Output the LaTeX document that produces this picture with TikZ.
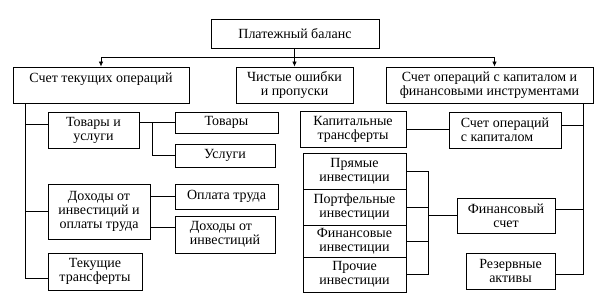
\documentclass[tikz,border=0pt]{standalone}
\usepackage{fontspec}
\setmainfont{Liberation Serif}
\usepackage{tikz}
\usetikzlibrary{positioning,arrows.meta,calc}
\tikzset{
  box/.style={draw,align=center,inner sep=1pt,font=\fontsize{14}{14}\selectfont},
  sz/.style 2 args={minimum width=#1pt,minimum height=#2pt},
  arr/.style={-{Latex[length=5pt,width=4.5pt]}},
}

\begin{document}
\begin{tikzpicture}[x=1pt,y=-1pt,line width=0.8pt]
\useasboundingbox (0,0) rectangle (610,302);
% top level
\node[box,sz={168}{29}] (bal) at (295,33.5) {Платежный баланс};
\node[box,sz={176}{36}] (cur) at (101,85) {Счет текущих операций\\~};
\node[box,sz={117}{36}] (err) at (294.5,85) {Чистые ошибки\\и пропуски};
\node[box,sz={207}{36}] (cap) at (489.5,85) {Счет операций с капиталом и\\финансовыми инструментами};
% current account
\node[box,sz={91}{36}] (gs) at (93.5,130) {Товары и\\услуги};
\node[box,sz={103}{21}] (goods) at (226.5,122.5) {Товары};
\node[box,sz={100}{23}] (serv) at (225,155.5) {Услуги};
\node[box,sz={102}{55}] (inc) at (99,211.5) {Доходы от\\инвестиций и\\оплаты труда};
\node[box,sz={103}{25}] (wage) at (226.5,196.5) {Оплата труда};
\node[box,sz={100}{37},align=left] (invinc) at (225,234.5) {Доходы от\\инвестиций};
\node[box,sz={94}{37}] (tr) at (95,271.5) {Текущие\\трансферты};
% capital and financial account
\node[box,sz={106}{36}] (captr) at (353,129) {Капитальные\\трансферты};
\node[box,sz={112}{36},align=left] (capacc) at (505,130) {Счет операций\\с капиталом};
\node[box,sz={103}{36}] (dir) at (354.5,171) {Прямые\\инвестиции};
\node[box,sz={103}{36}] (port) at (354.5,207) {Портфельные\\инвестиции};
\node[box,sz={103}{32}] (fin) at (354.5,241) {Финансовые\\инвестиции};
\node[box,sz={103}{35}] (oth) at (354.5,274.5) {Прочие\\инвестиции};
\node[box,sz={98}{35}] (fa) at (506,215.5) {Финансовый\\счет};
\node[box,sz={89}{36}] (res) at (510.5,271) {Резервные\\активы};

\coordinate (hb) at (0,57);
\draw[arr] (bal.south -| err.north) -- (err.north);
\draw[arr] (err.north |- hb) -| (cur.north);
\draw[arr] (err.north |- hb) -| ([xshift=5pt]cap.north);

\coordinate (lb) at ([xshift=13pt]cur.south west);
\draw (lb) |- ([yshift=-6.5pt]tr.west);
\draw (lb |- inc.west) -- (inc.west);
\draw (lb |- gs.west) ++(0,-6) -- ([yshift=6pt]gs.west);
\draw (gs.east |- goods.west) -- (goods.west);
\coordinate (gj) at ($(gs.east |- goods.west)+(13,0)$);
\draw (gj) |- (serv.west);
\draw (inc.east |- wage.west) -- (wage.west);
\draw ([yshift=7.5pt]invinc.west -| inc.east) -- ([yshift=7.5pt]invinc.west);

\coordinate (rb) at ([xshift=-10pt]cap.south east);
\draw (rb) |- ([yshift=-3pt]res.east);
\draw ([yshift=5pt]capacc.east) -- ([yshift=5pt]capacc.east -| rb);
\draw ([yshift=6.5pt]fa.east) -- ([yshift=6.5pt]fa.east -| rb);
\draw (captr.east) -- (captr.east -| capacc.west);

\coordinate (br) at ([xshift=22pt]dir.east);
\foreach \n in {dir,port,fin,oth}
  \draw (\n.east) -- (\n.east -| br);
\draw (br |- dir.east) -- (br |- oth.east);
\draw (br |- fa.west) -- (fa.west);
\end{tikzpicture}
\end{document}
